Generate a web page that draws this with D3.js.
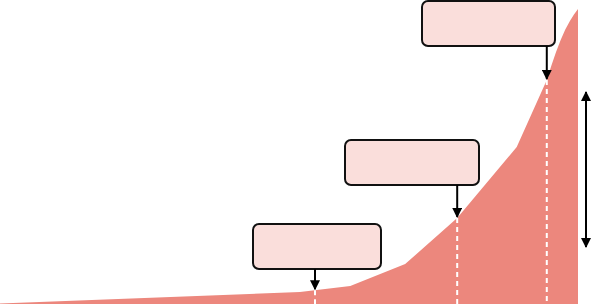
<!DOCTYPE html>
<html>
<head>
<meta charset="utf-8">
<script src="https://cdn.jsdelivr.net/npm/d3@7"></script>
<style>
  body { margin: 0; background: #fff; }
  svg { display: block; }
</style>
</head>
<body>
<script>
// curve points, x and y both in 0..100 units
var xs = [0, 51.9, 60.6, 70.1, 79.1, 89.4, 94.6, 95.4, 96.2, 97.0, 97.8, 98.6, 99.3, 100];
var ys = [0.2, 4, 6, 13.3, 28.7, 52.3, 74.7, 79.5, 84, 88, 91.5, 94.3, 96.5, 98.3];

// annotated points (x units) and where their boxes go
var markX = [54.5, 79.1, 94.6];
var boxes = [
  {x: 253, y: 224, w: 128, h: 45},
  {x: 345, y: 140, w: 134, h: 45},
  {x: 422, y: 1, w: 133, h: 45}
];

var width = 591, height = 305;

var svg = d3.select("body").append("svg")
    .attr("width", width)
    .attr("height", height);

var x = d3.scaleLinear().domain([0, 100]).range([0, 578]);
var y = d3.scaleLinear().domain([0, 100]).range([304, 4]);

var data = xs.map((v, i) => ({x: v, y: ys[i]}));

function yAt(v) {
    for (var i = 1; i < xs.length; i++) {
        if (v <= xs[i]) {
            var t = (v - xs[i - 1]) / (xs[i] - xs[i - 1]);
            return ys[i - 1] + t * (ys[i] - ys[i - 1]);
        }
    }
    return ys[ys.length - 1];
}

var defs = svg.append("defs");
defs.append("marker")
    .attr("id", "head")
    .attr("viewBox", "0 -5 10 10")
    .attr("refX", 9)
    .attr("refY", 0)
    .attr("markerWidth", 5)
    .attr("markerHeight", 5)
    .attr("orient", "auto-start-reverse")
    .append("path")
    .attr("d", "M0,-5L10,0L0,5Z")
    .style("fill", "#000");

var area = d3.area()
    .x(d => x(d.x))
    .y0(y(0))
    .y1(d => y(d.y));

svg.append("path")
    .datum(data)
    .attr("d", area)
    .style("fill", "#ec877d");

// dashed guides
svg.append("g").selectAll("line")
    .data(markX)
    .enter().append("line")
    .attr("x1", d => x(d))
    .attr("x2", d => x(d))
    .attr("y1", d => y(yAt(d)))
    .attr("y2", y(0))
    .style("stroke", "#fff")
    .style("stroke-width", 2)
    .style("stroke-dasharray", "5,4");

// boxes
svg.append("g").selectAll("rect")
    .data(boxes)
    .enter().append("rect")
    .attr("x", d => d.x)
    .attr("y", d => d.y)
    .attr("width", d => d.w)
    .attr("height", d => d.h)
    .attr("rx", 6)
    .style("fill", "#fadedb")
    .style("stroke", "#111")
    .style("stroke-width", 2);

// arrows from boxes to curve
svg.append("g").selectAll("line")
    .data(markX)
    .enter().append("line")
    .attr("x1", d => x(d))
    .attr("x2", d => x(d))
    .attr("y1", (d, i) => boxes[i].y + boxes[i].h)
    .attr("y2", d => y(yAt(d)) - 1)
    .attr("marker-end", "url(#head)")
    .style("stroke", "#000")
    .style("stroke-width", 2);

// double headed arrow on the right
svg.append("line")
    .attr("x1", 586).attr("x2", 586)
    .attr("y1", 92).attr("y2", 247)
    .attr("marker-start", "url(#head)")
    .attr("marker-end", "url(#head)")
    .style("stroke", "#000")
    .style("stroke-width", 2);
</script>
</body>
</html>
